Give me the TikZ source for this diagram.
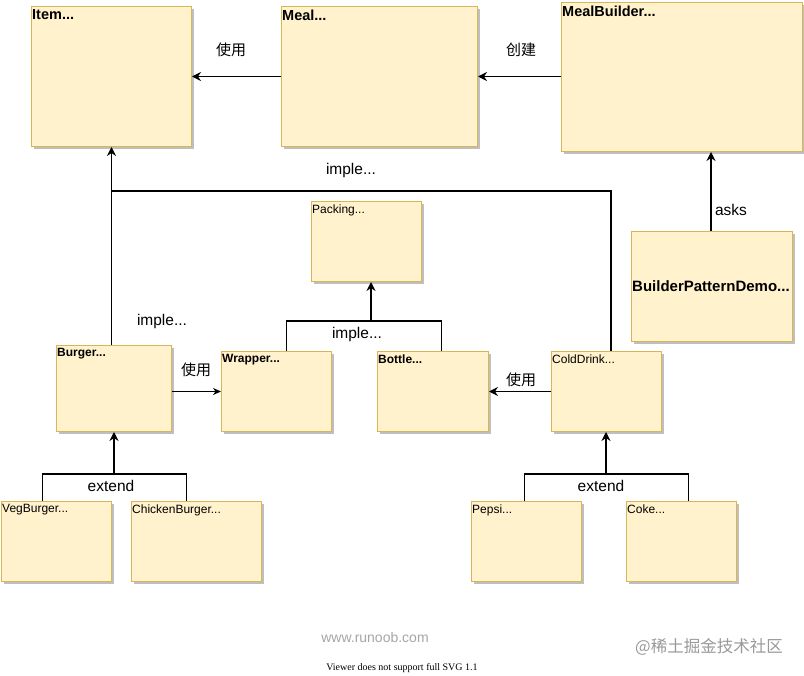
\documentclass[tikz,border=0pt]{standalone}
\usepackage{fontspec}
\setmainfont{Liberation Sans}
\newfontfamily\cjk{Noto Sans CJK SC}
\newfontfamily\tms{Liberation Serif}
\usetikzlibrary{shadows,arrows.meta}
\definecolor{boxfill}{HTML}{FFF2CC}
\definecolor{boxline}{HTML}{D6B656}
\begin{document}
\begin{tikzpicture}[x=1pt,y=-1pt,
  box/.style={draw=boxline,fill=boxfill,line width=1pt,anchor=north west,inner sep=0pt,
    drop shadow={shadow xshift=2.5pt,shadow yshift=-2.5pt,fill=black,opacity=0.25}},
  ttl/.style={anchor=north west,inner sep=1pt,yshift=-2.5pt,font=\fontsize{14.5}{16}\selectfont\bfseries},
  stl/.style={anchor=north west,inner sep=1pt,yshift=-2.5pt,font=\fontsize{12}{14}\selectfont\bfseries},
  rtl/.style={anchor=north west,inner sep=1pt,yshift=-2.5pt,font=\fontsize{12}{14}\selectfont},
  lbl/.style={inner sep=0pt,font=\fontsize{15.5}{18}\selectfont},
  clbl/.style={inner sep=0pt,font=\fontsize{15}{18}\selectfont\cjk},
  line/.style={line width=1.6pt},
  arr/.style={line width=1.6pt,-{Stealth[length=9pt,width=9pt,inset=3pt]}},
  tarr/.style={line width=1pt,-{Stealth[length=8pt,width=7pt,inset=2.5pt]}}]
\useasboundingbox (0,0) rectangle (804,676);
\fill[white] (0,0) rectangle (804,676);
% boxes
\node[box,minimum width=160pt,minimum height=140pt,label={[ttl]north west:Item...}] (item) at (31,6) {};
\node[box,minimum width=196pt,minimum height=140pt,label={[ttl]north west:Meal...}] (meal) at (281,6) {};
\node[box,minimum width=241pt,minimum height=149pt,label={[ttl]north west:MealBuilder...}] (mb) at (561,2) {};
\node[box,minimum width=161pt,minimum height=110pt] (bpd) at (631,231) {};
\node[anchor=west,inner sep=1pt,font=\fontsize{15}{17}\selectfont\bfseries] (bpdt) at (bpd.west) {BuilderPatternDemo...};
\node[box,minimum width=110pt,minimum height=80pt,label={[rtl]north west:Packing...}] (pack) at (311,201) {};
\node[box,minimum width=115pt,minimum height=86pt,label={[stl]north west:Burger...}] (burger) at (56,345) {};
\node[box,minimum width=110pt,minimum height=80pt,label={[stl]north west:Wrapper...}] (wrap) at (221,351) {};
\node[box,minimum width=111pt,minimum height=80pt,label={[stl]north west:Bottle...}] (bottle) at (377,351) {};
\node[box,minimum width=110pt,minimum height=80pt,label={[rtl]north west:ColdDrink...}] (cold) at (551,351) {};
\node[box,minimum width=110pt,minimum height=80pt,label={[rtl]north west:VegBurger...}] (veg) at (1,501) {};
\node[box,minimum width=130pt,minimum height=80pt,label={[rtl]north west:ChickenBurger...}] (chick) at (131,501) {};
\node[box,minimum width=110pt,minimum height=80pt,label={[rtl]north west:Pepsi...}] (pepsi) at (471,501) {};
\node[box,minimum width=110pt,minimum height=80pt,label={[rtl]north west:Coke...}] (coke) at (626,501) {};
% connectors
\draw[arr] (meal.west) -- (item.east);
\node[clbl] (l1) at (231,50) {使用};
\draw[arr] (mb.west |- meal.east) -- (meal.east);
\node[clbl] (l2) at (521,50) {创建};
\coordinate (askx) at (711,0);
\draw[arr] (askx |- bpd.north) -- (askx |- mb.south);
\node[lbl] (l3) at (731,210) {asks};
\draw[arr] (item.south |- burger.north) -- (item.south);
\node[lbl] (l4) at (162,321) {imple...};
\coordinate (cj) at (611,191);
\draw[line] (cj |- cold.north) -- (cj) -- (item.south |- cj);
\node[lbl] (l5) at (351,170) {imple...};
\coordinate (pj) at (371,321);
\draw[line] ([xshift=10pt]wrap.north) |- (pj) -| ([xshift=8.5pt]bottle.north);
\draw[arr] (pj) -- (pj |- pack.south);
\node[lbl] (l6) at (357,334) {imple...};
\draw[tarr] (burger.east |- wrap.west) -- (wrap.west);
\node[clbl] (l7) at (196,370) {使用};
\draw[arr] (cold.west) -- (bottle.east);
\node[clbl] (l8) at (521,380) {使用};
\coordinate (ej1) at (114,474);
\draw[line] ([xshift=-14pt]veg.north) |- (ej1) -| ([xshift=-10pt]chick.north);
\draw[arr] (ej1) -- (ej1 |- burger.south);
\node[lbl] (l9) at (111,486) {extend};
\coordinate (ej2) at (606,474);
\draw[line] ([xshift=-2pt]pepsi.north) |- (ej2) -| ([xshift=7pt]coke.north);
\draw[arr] (ej2) -- (ej2 |- cold.south);
\node[lbl] (l10) at (601,486) {extend};
% footer
\node[inner sep=0pt,text=black!35,font=\fontsize{14}{16}\selectfont] (f1) at (375,637) {www.runoob.com};
\node[inner sep=0pt,text=black!40,font=\fontsize{16.5}{18}\selectfont\cjk] (f2) at (709,647) {@稀土掘金技术社区};
\node[inner sep=0pt,font=\fontsize{10}{11}\selectfont\tms] (f3) at (402,668) {Viewer does not support full SVG 1.1};
\end{tikzpicture}
\end{document}
